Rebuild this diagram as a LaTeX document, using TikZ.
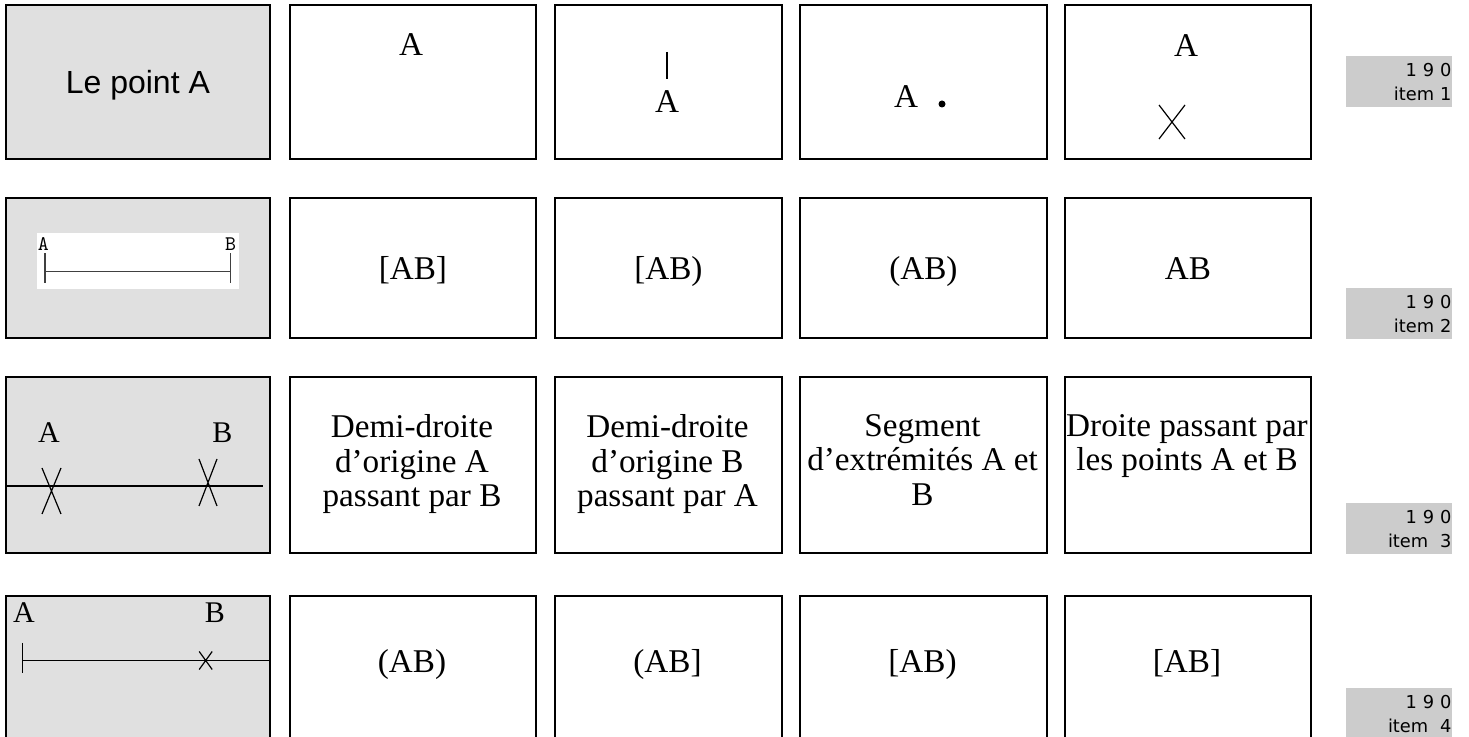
\documentclass[tikz,border=0pt]{standalone}
\usepackage{fontspec}
\setmainfont{Liberation Serif}
\newfontfamily\arialfont{Liberation Sans}
\newfontfamily\lblfont{DejaVu Sans}
\definecolor{cellgray}{HTML}{E0E0E0}
\definecolor{lblgray}{HTML}{CCCCCC}
\definecolor{figgray}{HTML}{404040}
\tikzset{
  cell/.style={draw, line width=0.9pt, anchor=north west, inner sep=0pt,
    text height=11pt, text depth=0pt, font=\fontsize{16.6}{17.3}\selectfont},
  first/.style={cell, fill=cellgray},
  c1/.style={minimum width=132pt}, c2/.style={minimum width=123pt},
  c3/.style={minimum width=113.5pt}, c4/.style={minimum width=123.5pt},
  c5/.style={minimum width=123pt},
  r1/.style={minimum height=77pt}, r2/.style={minimum height=69.75pt},
  r3/.style={minimum height=88.25pt}, r4/.style={minimum height=80pt},
  txt/.style={inner sep=0pt, align=center, font=\fontsize{16.6}{17.3}\selectfont},
  word/.style={txt, text height=11pt, text depth=0pt},
  small/.style={inner sep=0pt, font=\fontsize{15}{18}\selectfont},
  fig/.style={line width=0.6pt},
  lbl/.style={fill=lblgray, anchor=north west, inner sep=0pt, minimum width=53pt,
    minimum height=25.5pt, text width=52pt, align=right,
    font=\lblfont\fontsize{8.9}{12.2}\selectfont},
}
\begin{document}
\begin{tikzpicture}[x=0.5pt, y=-0.5pt]
  \useasboundingbox (0,0) rectangle (1469,737);
  \clip (0,0) rectangle (1469,737);
  \node[first, c1, r1, text height=11.5pt, font=\arialfont\fontsize{16}{19}\selectfont] (11) at (5,4.5) {Le point A};
  \node[cell, c2, r1] (12) at (289,4.5) {};
  \node[cell, c3, r1] (13) at (554,4.5) {};
  \node[cell, c4, r1] (14) at (799,4.5) {};
  \node[cell, c5, r1] (15) at (1064,4.5) {};
  \node[first, c1, r2] (21) at (5,197.5) {};
  \node[cell, c2, r2] (22) at (289,197.5) {[AB]};
  \node[cell, c3, r2] (23) at (554,197.5) {[AB)};
  \node[cell, c4, r2] (24) at (799,197.5) {(AB)};
  \node[cell, c5, r2] (25) at (1064,197.5) {AB};
  \node[first, c1, r3] (31) at (5,376) {};
  \node[cell, c2, r3] (32) at (289,376) {};
  \node[cell, c3, r3] (33) at (554,376) {};
  \node[cell, c4, r3] (34) at (799,376) {};
  \node[cell, c5, r3] (35) at (1064,376) {};
  \node[first, c1, r4] (41) at (5,595) {};
  \node[cell, c2, r4] (42) at (289,595) {};
  \node[cell, c3, r4] (43) at (554,595) {};
  \node[cell, c4, r4] (44) at (799,595) {};
  \node[cell, c5, r4] (45) at (1064,595) {};

  \node[word] (a12) at (411,45) {A};
  \draw[fig] (667,52) -- (667,79);
  \node[word] (a13) at (667,102) {A};
  \node[word] (a14) at (906,97) {A};
  \fill (942,104) circle (1.75pt);
  \node[word] (a15) at (1186,46) {A};
  \draw[fig] (1159,105) -- (1185,139) (1159,139) -- (1185,105);

  \fill[white] (37,233) rectangle (239,289);
  \node[inner sep=0pt, font=\ttfamily\fontsize{10.4}{12}\selectfont] (a21) at (43.3,244.5) {A};
  \node[inner sep=0pt, font=\ttfamily\fontsize{10.4}{12}\selectfont] (b21) at (230.7,244.5) {B};
  \draw[fig, figgray] (45,253.3) -- (45,283.3) (45,271.7) -- (230.7,271.7)
    (230.7,253.3) -- (230.7,283.3);

  \node[small] (a31) at (49,432.5) {A};
  \node[small] (b31) at (222.5,432.5) {B};
  \draw[fig] (6,486) -- (263,486);
  \draw[fig] (42,468) -- (61,514) (42,514) -- (61,468);
  \draw[fig] (199,459) -- (217,506) (199,506) -- (217,459);
  \node[txt, anchor=north] (t32) at (412,414) {Demi-droite\\d’origine A\\passant par B};
  \node[txt, anchor=north] (t33) at (667.5,414) {Demi-droite\\d’origine B\\passant par A};
  \node[txt, anchor=north] (t34) at (922.5,414) {Segment\\d’extrémités A et\\B};
  \node[txt, anchor=north] (t35) at (1187,414) {Droite passant par\\les points A et B};

  \node[small] (a41) at (24,613) {A};
  \node[small] (b41) at (215,613) {B};
  \draw[fig] (22.7,643) -- (22.7,672.7) (22.7,660.7) -- (269,660.7);
  \draw[fig] (199.2,651.5) -- (212.2,669.5) (199.2,669.5) -- (212.2,651.5);
  \node[word] (t42) at (412,662) {(AB)};
  \node[word] (t43) at (667.5,662) {(AB]};
  \node[word] (t44) at (922.5,662) {[AB)};
  \node[word] (t45) at (1187,662) {[AB]};

  \node[lbl] (l1) at (1346,56) {1 9 0\\item 1};
  \node[lbl] (l2) at (1346,288) {1 9 0\\item 2};
  \node[lbl] (l3) at (1346,503) {1 9 0\\item\ \ 3};
  \node[lbl] (l4) at (1346,688) {1 9 0\\item\ \ 4};
\end{tikzpicture}
\end{document}
